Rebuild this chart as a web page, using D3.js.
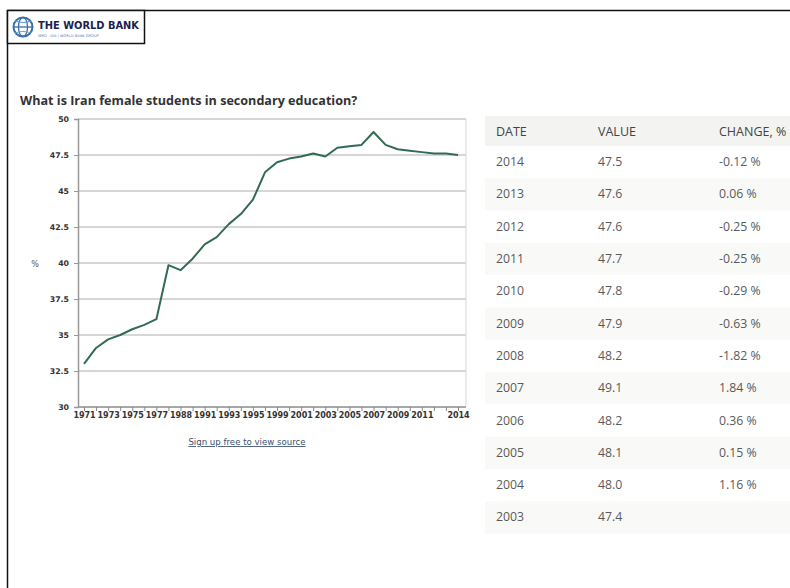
<!DOCTYPE html>
<html><head><meta charset="utf-8">
<script src="https://cdn.jsdelivr.net/npm/d3@7"></script>
<style>
html,body{margin:0;padding:0;background:#fff;}
svg{display:block;}
</style></head>
<body>
<svg id="c" width="790" height="588"></svg>
<script>
// ---- data ----
const categories = ["1971","1972","1973","1974","1975","1976","1977","1978","1988","1990","1991","1992","1993","1994","1995","1996","1999","2000","2001","2002","2003","2004","2005","2006","2007","2008","2009","2010","2011","2012","2013","2014"];
const values = [33.0,34.1,34.7,35.0,35.4,35.7,36.1,39.85,39.5,40.3,41.3,41.8,42.7,43.4,44.4,46.3,47.0,47.25,47.4,47.6,47.4,48.0,48.1,48.2,49.1,48.2,47.9,47.8,47.7,47.6,47.6,47.5];
const xTickLabels = ["1971","1973","1975","1977","1988","1991","1993","1995","1999","2001","2003","2005","2007","2009","2011","2014"];
const yTicks = [30,32.5,35,37.5,40,42.5,45,47.5,50];
const tableHeader = ["DATE","VALUE","CHANGE, %"];
const tableYears = ["2014","2013","2012","2011","2010","2009","2008","2007","2006","2005","2004","2003"];
const tableValues = ["47.5","47.6","47.6","47.7","47.8","47.9","48.2","49.1","48.2","48.1","48.0","47.4"];
const tableChanges = ["-0.12 %","0.06 %","-0.25 %","-0.25 %","-0.29 %","-0.63 %","-1.82 %","1.84 %","0.36 %","0.15 %","1.16 %",""];
const titleText = "What is Iran female students in secondary education?";
const yAxisLabel = "%";
const sourceText = "Sign up free to view source";

const svg = d3.select("#c");

// ---- frame & logo ----
svg.append("line").attr("x1",7.5).attr("y1",10.5).attr("x2",790).attr("y2",10.5).attr("stroke","#111").attr("stroke-width",1.5);
svg.append("line").attr("x1",7.5).attr("y1",10).attr("x2",7.5).attr("y2",588).attr("stroke","#111").attr("stroke-width",1.5);
svg.append("rect").attr("x",7.5).attr("y",10.5).attr("width",137).attr("height",33).attr("fill","#fff").attr("stroke","#111").attr("stroke-width",1.5);
const logo = svg.append("g");
logo.append("circle").attr("cx",23).attr("cy",27).attr("r",9.5).attr("fill","#fff").attr("stroke","#3a6fa8").attr("stroke-width",2);
logo.append("ellipse").attr("cx",23).attr("cy",27).attr("rx",4.5).attr("ry",9.5).attr("fill","none").attr("stroke","#3a6fa8").attr("stroke-width",1.3);
logo.append("line").attr("x1",13.5).attr("y1",27).attr("x2",32.5).attr("y2",27).attr("stroke","#3a6fa8").attr("stroke-width",1.3);
logo.append("path").attr("d","M15,21 Q23,24 31,21 M15,33 Q23,30 31,33").attr("fill","none").attr("stroke","#6a9bd1").attr("stroke-width",1.2);
logo.append("text").attr("x",38).attr("y",29).attr("font-family","DejaVu Sans, sans-serif").attr("font-weight","bold").attr("font-size",10).attr("fill","#1a2250").attr("textLength",101).attr("lengthAdjust","spacingAndGlyphs").text("THE WORLD BANK");
logo.append("text").attr("x",38).attr("y",36.5).attr("font-family","DejaVu Sans, sans-serif").attr("font-size",3.6).attr("fill","#5b7fb4").text("IBRD · IDA | WORLD BANK GROUP");

// ---- title ----
svg.append("text").attr("x",20).attr("y",105).attr("font-family","Open Sans, sans-serif").attr("font-weight","bold").attr("font-size",12.6).attr("fill","#333").text(titleText);

// ---- chart ----
const x = d3.scalePoint().domain(categories).range([84, 458]);
const y = d3.scaleLinear().domain([30,50]).range([407,119]);
const plotL = 78, plotR = 466;

const g = svg.append("g");
g.append("g").selectAll("line").data(yTicks).join("line")
  .attr("x1",plotL).attr("x2",plotR).attr("y1",d=>y(d)).attr("y2",d=>y(d))
  .attr("stroke","#c8c8c8").attr("stroke-width",1.5);
g.append("line").attr("x1",plotR).attr("x2",plotR).attr("y1",y(50)).attr("y2",y(30)).attr("stroke","#d8d8d8").attr("stroke-width",1);

const ya = g.append("g").attr("transform",`translate(${plotL},0)`)
  .call(d3.axisLeft(y).tickValues(yTicks).tickSize(4).tickFormat(d=>d3.format("~g")(d)));
ya.select(".domain").attr("stroke","#999").attr("stroke-width",1.5);
ya.selectAll(".tick line").attr("stroke","#999");
ya.selectAll("text").attr("font-family","DejaVu Sans, sans-serif").attr("font-weight","bold").attr("font-size",7.8).attr("fill","#333").attr("x",-9);

svg.append("text").attr("x",35).attr("y",267).attr("text-anchor","middle").attr("font-family","DejaVu Sans, sans-serif").attr("font-size",8).attr("fill","#555").text(yAxisLabel);

const xa = g.append("g").attr("transform",`translate(0,${y(30)})`)
  .call(d3.axisBottom(x).tickSize(4).tickSizeOuter(0).tickFormat(d=>xTickLabels.includes(d)?d:""));
xa.select(".domain").attr("stroke","#999").attr("stroke-width",1.5).attr("d",`M${plotL},0H${plotR}`);
xa.selectAll(".tick line").attr("stroke","#888");
xa.selectAll("text").attr("font-family","DejaVu Sans, sans-serif").attr("font-weight","bold").attr("font-size",8).attr("fill","#333").attr("dy","0.55em");

const line = d3.line().x((d,i)=>x(categories[i])).y(d=>y(d));
g.append("path").datum(values).attr("d",line).attr("fill","none").attr("stroke","#336b52").attr("stroke-width",2).attr("stroke-linejoin","round");

svg.append("text").attr("x",247).attr("y",445).attr("text-anchor","middle").attr("font-family","DejaVu Sans, sans-serif").attr("font-size",8.6).attr("fill","#3a4f70").attr("text-decoration","underline").text(sourceText);

// ---- table ----
const tX = 485, tW = 305, rowH = 32.3, headTop = 116;
const colX = [496, 598, 719];
const tg = svg.append("g").attr("font-family","Open Sans, sans-serif");
tg.append("rect").attr("x",tX).attr("y",headTop).attr("width",tW).attr("height",30).attr("fill","#f3f3f1");
tg.selectAll("text.h").data(tableHeader).join("text").attr("class","h")
  .attr("x",(d,i)=>colX[i]).attr("y",headTop+19.5).attr("font-size",12.5).attr("fill","#444").text(d=>d);
const rows = tg.selectAll("g.r").data(tableYears).join("g").attr("class","r")
  .attr("transform",(d,i)=>`translate(0,${headTop+30+i*rowH})`);
rows.append("rect").attr("x",tX).attr("y",0).attr("width",tW).attr("height",rowH)
  .attr("fill",(d,i)=>i%2===1?"#f9f9f8":"#fff");
rows.append("text").attr("x",colX[0]).attr("y",rowH/2+4).attr("font-size",12.3).attr("fill","#5a5a5a").text(d=>d);
rows.append("text").attr("x",colX[1]).attr("y",rowH/2+4).attr("font-size",12.3).attr("fill","#5a5a5a").text((d,i)=>tableValues[i]);
rows.append("text").attr("x",colX[2]).attr("y",rowH/2+4).attr("font-size",12.3).attr("fill","#5a5a5a").text((d,i)=>tableChanges[i]);
</script>
</body></html>
